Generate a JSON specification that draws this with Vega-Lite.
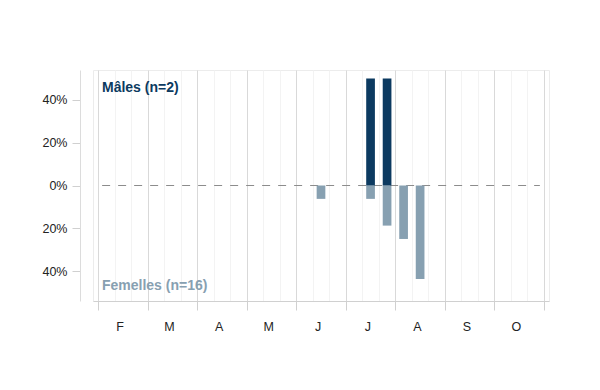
{
  "$schema": "https://vega.github.io/schema/vega-lite/v6.json",
  "autosize": {"type": "none"},
  "width": 456,
  "height": 231,
  "padding": {"left": 93, "top": 70, "right": 51, "bottom": 89},
  "background": "white",
  "config": {
    "view": {"stroke": "#ececec", "strokeWidth": 1},
    "font": "Liberation Sans"
  },
  "datasets": {
    "bars": [
      {"sexe": "Femelles", "mois": "Juin", "decade": 2, "t": 13.5, "v": -6.25},
      {"sexe": "Femelles", "mois": "Juillet", "decade": 2, "t": 16.5, "v": -6.25},
      {"sexe": "Femelles", "mois": "Juillet", "decade": 3, "t": 17.5, "v": -18.75},
      {"sexe": "Femelles", "mois": "Août", "decade": 1, "t": 18.5, "v": -25},
      {"sexe": "Femelles", "mois": "Août", "decade": 2, "t": 19.5, "v": -43.75},
      {"sexe": "Mâles", "mois": "Juillet", "decade": 2, "t": 16.5, "v": 50},
      {"sexe": "Mâles", "mois": "Juillet", "decade": 3, "t": 17.5, "v": 50}
    ],
    "zero": [{"t": 0.25, "t1": 26.75, "v": 0}],
    "labels": [
      {"label": "Mâles (n=2)", "sexe": "Mâles", "t": 0.24, "v": 45.5},
      {"label": "Femelles (n=16)", "sexe": "Femelles", "t": 0.24, "v": -47}
    ]
  },
  "encoding": {
    "x": {
      "field": "t", "type": "quantitative",
      "scale": {"domain": [0, 27], "nice": false, "zero": false},
      "axis": {
        "values": [0,1,2,3,4,5,6,7,8,9,10,11,12,13,14,15,16,17,18,19,20,21,22,23,24,25,26,27],
        "title": null,
        "grid": true,
        "gridColor": {"condition": {"test": "datum.value % 3 === 0", "value": "#d9d9d9"}, "value": "#f3f3f3"},
        "gridWidth": 1,
        "domain": true,
        "domainColor": "#d0d0d0",
        "ticks": true,
        "tickSize": 9,
        "tickColor": {"condition": {"test": "datum.value % 3 === 0", "value": "#d0d0d0"}, "value": "transparent"},
        "labelExpr": "datum.value % 3 === 0 && datum.value < 27 ? ['F','M','A','M','J','J','A','S','O'][datum.value / 3] : ''",
        "labelOffset": 21.5,
        "labelPadding": 10,
        "labelFontSize": 12.5,
        "labelColor": "#222222",
        "labelOverlap": false,
        "labelFlush": false,
        "labelBound": false
      }
    },
    "y": {
      "field": "v", "type": "quantitative",
      "scale": {"domain": [-54, 54], "nice": false, "zero": false},
      "axis": {
        "values": [-40, -20, 0, 20, 40],
        "title": null,
        "grid": false,
        "offset": 13,
        "domainColor": "#dcdcdc",
        "tickColor": "#d0d0d0",
        "tickSize": 8,
        "labelPadding": 5,
        "labelFontSize": 12.5,
        "labelColor": "#222222",
        "labelExpr": "abs(datum.value) + '%'"
      }
    }
  },
  "layer": [
    {
      "data": {"name": "zero"},
      "mark": {"type": "rule", "color": "#8c8c8c", "strokeWidth": 1, "strokeDash": [8, 8]},
      "encoding": {
        "x2": {"field": "t1"}
      }
    },
    {
      "data": {"name": "bars"},
      "mark": {"type": "bar", "width": 8.7},
      "encoding": {
        "y2": {"datum": 0},
        "color": {
          "field": "sexe", "type": "nominal",
          "scale": {"domain": ["Mâles", "Femelles"], "range": ["#0c3a60", "#87a0b1"]},
          "legend": null
        }
      }
    },
    {
      "data": {"name": "labels"},
      "mark": {"type": "text", "align": "left", "baseline": "middle", "fontWeight": "bold", "fontSize": 14},
      "encoding": {
        "text": {"field": "label"},
        "color": {
          "field": "sexe", "type": "nominal",
          "scale": {"domain": ["Mâles", "Femelles"], "range": ["#1b4a74", "#7d91a3"]},
          "legend": null
        }
      }
    }
  ]
}
